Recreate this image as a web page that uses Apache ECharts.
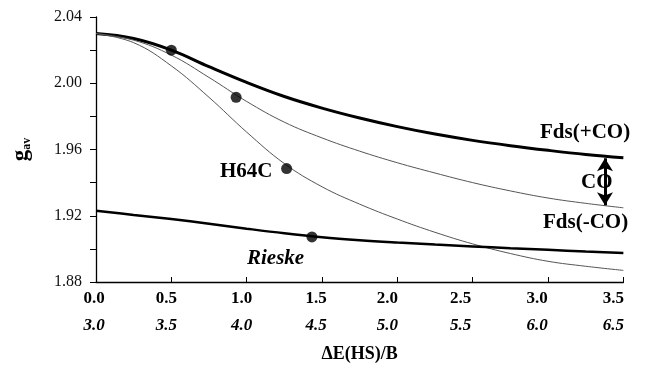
<!DOCTYPE html>
<html>
<head>
<meta charset="utf-8">
<script src="https://cdn.jsdelivr.net/npm/echarts@6/dist/echarts.min.js"></script>
<style>
html,body{margin:0;padding:0;background:#fff;}
#chart{width:647px;height:370px;}
</style>
</head>
<body>
<div id="chart"></div>
<script>
// ---- data ----
var xs = [0, 0.25, 0.5, 0.75, 1.0, 1.25, 1.5, 1.75, 2.0, 2.25, 2.5, 2.75, 3.0, 3.25, 3.5];
var fdsPlusCO  = [2.030, 2.027, 2.020, 2.010, 2.0005, 1.992, 1.985, 1.979, 1.9738, 1.9693, 1.9655, 1.9623, 1.9595, 1.957, 1.955];
var fdsMinusCO = [2.030, 2.026, 2.017, 2.0035, 1.989, 1.9765, 1.967, 1.959, 1.952, 1.9458, 1.940, 1.935, 1.9307, 1.9275, 1.9248];
var h64c       = [2.030, 2.0245, 2.0105, 1.9915, 1.9705, 1.9515, 1.9375, 1.927, 1.918, 1.910, 1.903, 1.8972, 1.8925, 1.8895, 1.887];
var rieske     = [1.923, 1.9205, 1.918, 1.9152, 1.9122, 1.9094, 1.907, 1.9052, 1.9038, 1.9026, 1.9015, 1.9004, 1.8994, 1.8984, 1.8975];
var pointX = [0.5, 0.93, 1.265, 1.433];
var pointY = [2.020, 1.9915, 1.9485, 1.9072];
var xTickTop    = ['0.0', '0.5', '1.0', '1.5', '2.0', '2.5', '3.0', '3.5'];
var xTickBottom = ['3.0', '3.5', '4.0', '4.5', '5.0', '5.5', '6.0', '6.5'];
var arrowX = 3.378, arrowTop = 1.9547, arrowBottom = 1.9263;

// ---- layout ----
var FONT = '"Liberation Serif", "Times New Roman", serif';
var labelShift = [-2, -5, -5, -6, -10, -12, -11, -10];

function pairs(x, y) { return x.map(function (v, i) { return [v, y[i]]; }); }

var rich = {};
labelShift.forEach(function (s, i) {
  rich['a' + i] = {fontFamily: FONT, fontWeight: 'bold', fontSize: 17, color: '#000', lineHeight: 27, padding: [0, -2 * s, 0, 0]};
  rich['b' + i] = {fontFamily: FONT, fontWeight: 'bold', fontStyle: 'italic', fontSize: 17, color: '#000', lineHeight: 27, padding: [0, -2 * s, 0, 0]};
});

var chart = echarts.init(document.getElementById('chart'), null, {renderer: 'canvas'});
chart.setOption({
  animation: false,
  backgroundColor: '#fff',
  grid: {left: 96, right: 5, top: 17, bottom: 88, containLabel: false},
  xAxis: {
    type: 'value', min: 0, max: 3.5, interval: 0.5,
    name: 'ΔE(HS)/B', nameLocation: 'middle', nameGap: 63,
    nameTextStyle: {fontFamily: FONT, fontWeight: 'bold', fontSize: 18, color: '#000'},
    axisLine: {lineStyle: {color: '#000', width: 1.3}},
    axisTick: {inside: true, length: 5, lineStyle: {color: '#000', width: 1}},
    splitLine: {show: false},
    axisLabel: {
      margin: 3,
      formatter: function (v) {
        var i = Math.round(v / 0.5);
        return '{a' + i + '|' + xTickTop[i] + '}\n{b' + i + '|' + xTickBottom[i] + '}';
      },
      rich: rich
    }
  },
  yAxis: {
    type: 'value', min: 1.88, max: 2.04, interval: 0.02,
    name: '{g|g}{s|av}', nameLocation: 'middle', nameRotate: 90, nameGap: 63,
    nameTextStyle: {
      rich: {
        g: {fontFamily: FONT, fontWeight: 'bold', fontSize: 23, color: '#000'},
        s: {fontFamily: FONT, fontWeight: 'bold', fontSize: 12, color: '#000', verticalAlign: 'bottom', padding: [8, 0, 0, 0]}
      }
    },
    axisLine: {show: true, lineStyle: {color: '#000', width: 1.3}},
    axisTick: {show: true, inside: false, length: 6, lineStyle: {color: '#000', width: 1}},
    splitLine: {show: false},
    axisLabel: {
      margin: 14, fontFamily: FONT, fontSize: 16, color: '#111',
      formatter: function (v) {
        var k = Math.round(v * 100);
        return (k % 4 === 0) ? v.toFixed(2) : '';
      }
    }
  },
  series: [
    {name: 'Fds(+CO)', type: 'line', data: pairs(xs, fdsPlusCO), smooth: 0.4, showSymbol: false,
      lineStyle: {color: '#000', width: 3}, z: 3,
      markLine: {
        silent: true, symbol: ['arrow', 'arrow'], symbolSize: [12, 13],
        label: {show: false},
        lineStyle: {color: '#000', width: 3, type: 'solid'},
        data: [[{coord: [arrowX, arrowTop]}, {coord: [arrowX, arrowBottom]}]]
      }},
    {name: 'Fds(-CO)', type: 'line', data: pairs(xs, fdsMinusCO), smooth: 0.4, showSymbol: false,
      lineStyle: {color: '#555', width: 1}},
    {name: 'H64C', type: 'line', data: pairs(xs, h64c), smooth: 0.4, showSymbol: false,
      lineStyle: {color: '#555', width: 1}},
    {name: 'Rieske', type: 'line', data: pairs(xs, rieske), smooth: 0.4, showSymbol: false,
      lineStyle: {color: '#000', width: 2.5}, z: 3},
    {name: 'points', type: 'scatter', data: pairs(pointX, pointY), symbol: 'circle', symbolSize: 11,
      itemStyle: {color: '#000'}, z: 5}
  ],
  graphic: [
    {type: 'text', left: 540, top: 122, style: {text: 'Fds(+CO)', font: 'bold 21px ' + FONT, fill: '#000'}},
    {type: 'text', left: 581, top: 172, style: {text: 'CO', font: 'bold 21px ' + FONT, fill: '#000'}},
    {type: 'text', left: 543, top: 212, style: {text: 'Fds(-CO)', font: 'bold 21px ' + FONT, fill: '#000'}},
    {type: 'text', left: 220, top: 161, style: {text: 'H64C', font: 'bold 21px ' + FONT, fill: '#000'}},
    {type: 'text', left: 247, top: 248, style: {text: 'Rieske', font: 'italic bold 21px ' + FONT, fill: '#000'}}
  ]
});
</script>
</body>
</html>
